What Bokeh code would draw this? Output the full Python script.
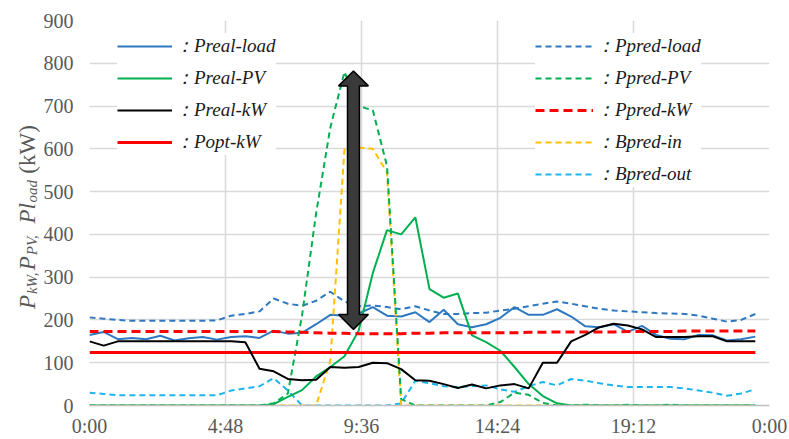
from math import pi
from bokeh.plotting import figure
from bokeh.layouts import row
from bokeh.models import FixedTicker, Legend, LegendItem, Label, ColumnDataSource, Range1d
from bokeh.embed import file_html
from bokeh.resources import INLINE

# ---------------- data (30-minute steps, minutes from 0:00) ----------------
time_min = [0, 30, 60, 90, 120, 150, 180, 210, 240, 270, 300, 330, 360, 390, 420, 450,
            480, 510, 540, 570, 600, 630, 660, 690, 720, 750, 780, 810, 840, 870, 900, 930,
            960, 990, 1020, 1050, 1080, 1110, 1140, 1170, 1200, 1230, 1260, 1290, 1320, 1350, 1380, 1410]

preal_load = [165, 172, 155, 158, 155, 163, 152, 157, 160, 154,
              160, 162, 158, 175, 168, 170, 190, 212, 210, 215,
              230, 210, 208, 218, 195, 224, 190, 183, 190, 205,
              230, 212, 212, 225, 208, 185, 183, 190, 172, 186,
              165, 156, 155, 165, 164, 152, 155, 161]

ppred_load = [206, 203, 200, 198, 198, 198, 198, 198, 198, 199,
              210, 214, 220, 250, 238, 233, 245, 266, 243, 232,
              234, 230, 225, 232, 222, 214, 214, 216, 217, 222,
              226, 232, 238, 243, 238, 232, 226, 222, 220, 218,
              216, 215, 214, 210, 203, 196, 200, 214]

preal_pv = [0, 0, 0, 0, 0, 0, 0, 0, 0, 0,
            0, 0, 0, 3, 20, 36, 68, 90, 115, 175,
            310, 410, 400, 440, 272, 252, 262, 164, 148, 128,
            90, 50, 22, 5, 0, 0, 0, 0, 0, 0,
            0, 0, 0, 0, 0, 0, 0, 0]

ppred_pv = [0, 0, 0, 0, 0, 0, 0, 0, 0, 0,
            0, 0, 0, 5, 28, 210, 450, 650, 780, 700,
            690, 560, 15, 0, 0, 0, 0, 0, 0, 8,
            30, 25, 6, 0, 0, 2, 0, 0, 2, 0,
            0, 2, 0, 0, 0, 0, 0, 0]

preal_kw = [150, 140, 150, 150, 150, 150, 150, 150, 150, 150,
            150, 148, 86, 80, 62, 59, 60, 90, 88, 90,
            100, 99, 85, 59, 58, 50, 41, 49, 40, 47,
            50, 40, 100, 100, 150, 165, 183, 191, 187, 178,
            160, 160, 160, 162, 162, 150, 150, 150]

ppred_kw = [173, 173, 173, 173, 173, 173, 173, 173, 173, 173,
            173, 173, 173, 173, 172, 171, 170, 169, 169, 168,
            168, 168, 168, 169, 169, 170, 170, 170, 170, 170,
            170, 171, 171, 172, 172, 172, 172, 172, 173, 173,
            173, 173, 174, 174, 174, 174, 174, 174]

popt_kw = [124, 124, 124, 124, 124, 124, 124, 124, 124, 124,
           124, 124, 124, 124, 124, 124, 124, 124, 124, 124,
           124, 124, 124, 124, 124, 124, 124, 124, 124, 124,
           124, 124, 124, 124, 124, 124, 124, 124, 124, 124,
           124, 124, 124, 124, 124, 124, 124, 124]

bpred_in = [0, 0, 0, 0, 0, 0, 0, 0, 0, 0,
            0, 0, 0, 0, 0, 0, 0, 105, 600, 603,
            600, 545, 0, 0, 0, 0, 0, 0, 0, 0,
            0, 0, 0, 0, 0, 0, 0, 0, 0, 0,
            0, 0, 0, 0, 0, 0, 0, 0]

bpred_out = [30, 27, 24, 24, 24, 24, 24, 24, 24, 24,
             35, 40, 45, 64, 35, 0, 0, 0, 0, 0,
             0, 0, 5, 58, 52, 45, 43, 45, 47, 38,
             32, 45, 55, 47, 62, 58, 52, 47, 43, 43,
             43, 43, 40, 35, 30, 23, 28, 38]

x_tick_values = [0, 288, 576, 864, 1152, 1440]
x_tick_labels = ["0:00", "4:48", "9:36", "14:24", "19:12", "0:00"]
y_tick_values = [0, 100, 200, 300, 400, 500, 600, 700, 800, 900]

# arrow annotation (time in minutes, kW range)
arrow_time = 559
arrow_low = 178
arrow_high = 782

# ---------------- figure ----------------
TOTAL_W, TOTAL_H = 789, 439
LBL_W = 40
W, H = TOTAL_W - LBL_W, TOTAL_H
BORDER_TOP, BORDER_BOTTOM = 20, 32
FRAME_W, FRAME_H = 684, H - BORDER_TOP - BORDER_BOTTOM
X0, X1, Y0, Y1 = 0, 1440, 0, 900
px_x = (X1 - X0) / FRAME_W   # minutes per pixel
px_y = (Y1 - Y0) / FRAME_H   # kW per pixel

p = figure(width=W, height=H, output_backend="svg", toolbar_location=None, title=None,
           x_range=(X0, X1), y_range=(Y0, Y1),
           min_border_left=45, min_border_right=20,
           min_border_top=BORDER_TOP, min_border_bottom=BORDER_BOTTOM)
p.outline_line_color = None
p.background_fill_color = "white"
p.border_fill_color = "white"

GRID = "#d9d9d9"
TXT = "#595959"
SERIF = "Liberation Serif, DejaVu Serif, serif"

p.xgrid.ticker = FixedTicker(ticks=x_tick_values)
p.ygrid.ticker = FixedTicker(ticks=y_tick_values)
for g in (p.xgrid, p.ygrid):
    g.grid_line_color = GRID
    g.grid_line_width = 1.5

p.xaxis.ticker = FixedTicker(ticks=x_tick_values)
p.xaxis.major_label_overrides = {v: l for v, l in zip(x_tick_values, x_tick_labels)}
p.yaxis.ticker = FixedTicker(ticks=y_tick_values)
for ax in (p.xaxis, p.yaxis):
    ax.major_tick_line_color = None
    ax.minor_tick_line_color = None
    ax.major_tick_out = 0
    ax.major_tick_in = 0
    ax.minor_tick_out = 0
    ax.major_label_text_font = SERIF
    ax.major_label_text_font_size = "20px"
    ax.major_label_text_color = TXT
p.xaxis.axis_line_color = "#bfbfbf"
p.xaxis.axis_line_width = 1.5
p.xaxis.major_label_standoff = 9
p.yaxis.axis_line_color = None
p.yaxis.major_label_standoff = 16

src = ColumnDataSource(dict(t=time_min, preal_load=preal_load, ppred_load=ppred_load,
                            preal_pv=preal_pv, ppred_pv=ppred_pv, preal_kw=preal_kw,
                            ppred_kw=ppred_kw, popt_kw=popt_kw, bpred_in=bpred_in,
                            bpred_out=bpred_out))

BLUE = "#2E78C2"
GREEN = "#00B050"
RED = "#FF0000"
YEL = "#FFC000"
LBLUE = "#1CB5EE"
DASH = "6 4"

r_ppred_load = p.line("t", "ppred_load", source=src, color=BLUE, line_width=2, line_dash=DASH)
r_bpred_out = p.line("t", "bpred_out", source=src, color=LBLUE, line_width=2, line_dash=DASH)
r_preal_load = p.line("t", "preal_load", source=src, color=BLUE, line_width=2)
r_bpred_in = p.line("t", "bpred_in", source=src, color=YEL, line_width=2, line_dash=DASH)
r_ppred_pv = p.line("t", "ppred_pv", source=src, color=GREEN, line_width=2, line_dash=DASH)
r_preal_pv = p.line("t", "preal_pv", source=src, color=GREEN, line_width=2)
r_ppred_kw = p.line("t", "ppred_kw", source=src, color=RED, line_width=3, line_dash="9 5")
r_popt_kw = p.line("t", "popt_kw", source=src, color=RED, line_width=3)
r_preal_kw = p.line("t", "preal_kw", source=src, color="black", line_width=2)

# double headed arrow (shape in pixels converted to data units)
shaft_hw = 6 * px_x
head_hw = 15 * px_x
head_len = 15 * px_y
ax_ = arrow_time
arrow_xs = [ax_, ax_ + head_hw, ax_ + shaft_hw, ax_ + shaft_hw, ax_ + head_hw, ax_,
            ax_ - head_hw, ax_ - shaft_hw, ax_ - shaft_hw, ax_ - head_hw]
arrow_ys = [arrow_high, arrow_high - head_len, arrow_high - head_len, arrow_low + head_len,
            arrow_low + head_len, arrow_low, arrow_low + head_len, arrow_low + head_len,
            arrow_high - head_len, arrow_high - head_len]
p.patch(arrow_xs, arrow_ys, fill_color="#3a3a3a", line_color="black", line_width=1.5)

# ---------------- legends ----------------
def make_legend(items, loc, glyph_w):
    lg = Legend(items=items, location=loc, orientation="vertical")
    lg.label_text_font = SERIF
    lg.label_text_font_style = "italic"
    lg.label_text_font_size = "19px"
    lg.label_text_color = "#1a1a1a"
    lg.glyph_width = glyph_w
    lg.glyph_height = 20
    lg.label_height = 20
    lg.spacing = 6
    lg.padding = 8
    lg.margin = 0
    lg.label_standoff = 3
    lg.border_line_color = None
    lg.background_fill_color = "white"
    lg.background_fill_alpha = 1.0
    return lg

leg1 = make_legend([
    LegendItem(label="：Preal-load", renderers=[r_preal_load]),
    LegendItem(label="：Preal-PV", renderers=[r_preal_pv]),
    LegendItem(label="：Preal-kW", renderers=[r_preal_kw]),
    LegendItem(label="：Popt-kW", renderers=[r_popt_kw]),
], (28, 250), 55)
leg2 = make_legend([
    LegendItem(label="：Ppred-load", renderers=[r_ppred_load]),
    LegendItem(label="：Ppred-PV", renderers=[r_ppred_pv]),
    LegendItem(label="：Ppred-kW", renderers=[r_ppred_kw]),
    LegendItem(label="：Bpred-in", renderers=[r_bpred_in]),
    LegendItem(label="：Bpred-out", renderers=[r_bpred_out]),
], (446, 218), 58)
p.add_layout(leg1)
p.add_layout(leg2)

# ---------------- y-axis label with subscripts (separate narrow figure) ----------------
# frame of this figure spans the same vertical pixels as the main frame;
# its y range is expressed directly in page pixels (top = BORDER_TOP).
lf = figure(width=LBL_W, height=H, output_backend="svg", toolbar_location=None, title=None,
            x_range=Range1d(0, LBL_W), y_range=Range1d(H - BORDER_BOTTOM, BORDER_TOP),
            x_axis_location=None, y_axis_location=None,
            min_border_left=0, min_border_right=0,
            min_border_top=BORDER_TOP, min_border_bottom=BORDER_BOTTOM)
lf.outline_line_color = None
lf.background_fill_color = "white"
lf.border_fill_color = "white"
lf.grid.visible = False

# (text, start position from top in px, kind, style)
ylabel_parts = [
    ("P", 310, "main", "italic"),
    ("kW,", 295, "sub", "italic"),
    ("P", 271, "main", "italic"),
    ("PV,", 256, "sub", "italic"),
    ("Pl", 224, "main", "italic"),
    ("oad", 203, "sub", "italic"),
    ("(kW)", 174, "main", "normal"),
]
for txt, py, kind, style in ylabel_parts:
    if kind == "main":
        bx, size = 27, "23px"
    else:
        bx, size = 31, "15px"
    lf.add_layout(Label(x=bx, y=py, text=txt, angle=pi / 2,
                        text_align="left", text_baseline="alphabetic",
                        text_font=SERIF, text_font_style=style,
                        text_font_size=size, text_color=TXT))

layout = row(lf, p, spacing=0)
open("out.html", "w").write(file_html(layout, INLINE))
